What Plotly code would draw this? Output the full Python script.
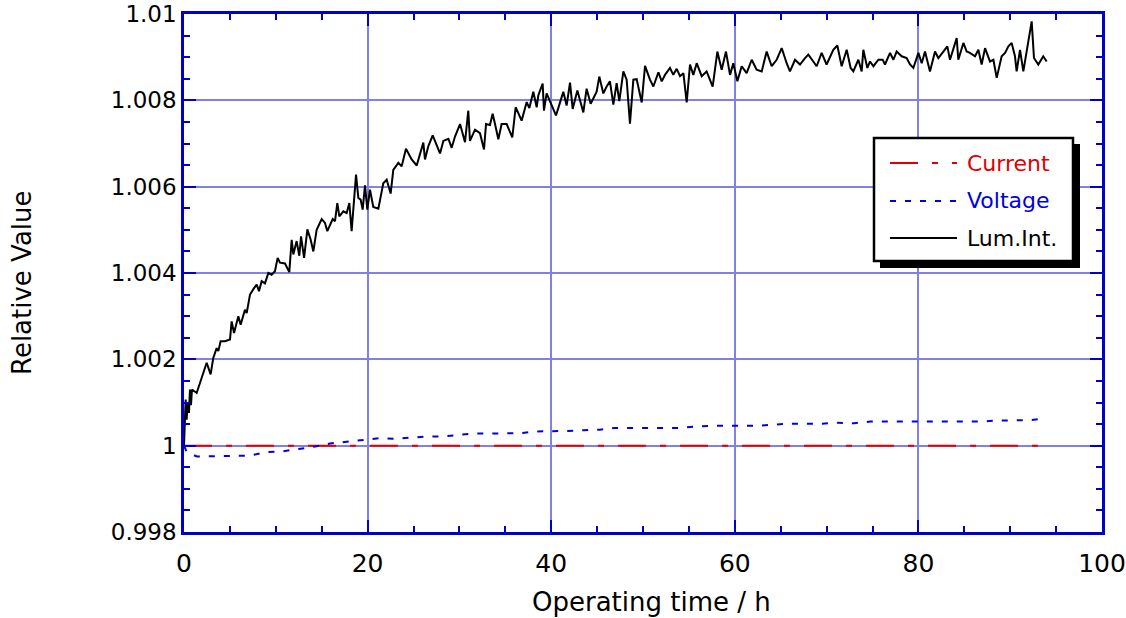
import plotly.graph_objects as go

# ---------------- data ----------------
lum_t = [0.0, 0.07, 0.18, 0.29, 0.40, 0.54, 0.65, 0.76, 0.87, 1.38, 1.92, 2.47, 2.90, 3.19, 3.56, 3.74, 3.99,
         4.47, 5.01, 5.19, 5.45, 5.92, 6.17, 6.64, 6.83, 7.19, 7.63, 7.92, 8.17, 8.46, 8.82, 9.19, 9.55, 9.91,
         10.2, 10.46, 11.0, 11.47, 11.73, 11.91, 12.27, 12.56, 12.75, 13.08, 13.44, 13.8, 14.09, 14.45, 15.0,
         15.36, 15.61, 16.2, 16.45, 16.7, 16.92, 17.36, 17.72, 18.01, 18.26, 18.74, 18.99, 19.24, 19.46, 19.72,
         19.97, 20.26, 20.62, 21.17, 21.71, 22.08, 22.51, 22.8, 23.35, 23.71, 24.18, 24.55, 24.8, 25.35, 25.71,
         26.07, 26.25, 26.62, 27.09, 27.52, 27.89, 28.25, 28.8, 29.16, 29.52, 30.07, 30.61, 30.97, 31.15, 31.7,
         32.24, 32.68, 32.9, 33.33, 33.62, 33.88, 34.24, 34.6, 35.15, 35.76, 36.13, 36.78, 37.33, 37.62, 38.05,
         38.42, 38.6, 39.07, 39.21, 39.5, 40.05, 40.52, 40.95, 41.32, 41.68, 42.05, 42.34, 42.85, 43.5, 43.86,
         44.3, 44.95, 45.24, 45.68, 46.04, 46.4, 46.77, 47.13, 47.42, 47.86, 48.22, 48.58, 48.95, 49.31, 49.86,
         50.22, 50.76, 51.13, 51.68, 52.04, 52.4, 52.94, 53.3, 53.67, 54.03, 54.4, 54.76, 55.12, 55.48, 55.85,
         56.39, 56.93, 57.59, 58.1, 58.57, 59.04, 59.48, 59.84, 60.28, 60.75, 61.29, 61.84, 62.38, 62.93, 63.47,
         64.02, 64.56, 65.11, 65.65, 66.01, 66.56, 67.1, 67.65, 68.01, 68.55, 68.92, 69.46, 70.0, 70.73, 71.17,
         71.64, 72.19, 72.62, 72.91, 73.46, 73.82, 74.0, 74.44, 74.73, 75.1, 75.64, 76.11, 76.36, 76.91, 77.28,
         77.63, 78.18, 78.72, 79.09, 79.45, 80.0, 80.36, 80.72, 81.26, 81.81, 82.17, 82.72, 83.15, 83.44, 83.8,
         84.17, 84.35, 84.9, 85.26, 85.62, 86.17, 86.53, 86.89, 87.26, 87.8, 88.17, 88.53, 89.07, 89.44, 89.8,
         90.16, 90.52, 90.7, 91.07, 91.43, 91.98, 92.34, 92.59, 93.06, 93.6, 93.97]
lum_v = [1.0000, 1.0006, 1.00107, 1.0006, 1.00099, 1.00076, 1.0013, 1.00094, 1.0013, 1.00122, 1.00157, 1.00192,
         1.00165, 1.00203, 1.00226, 1.00219, 1.00242, 1.00242, 1.00246, 1.00288, 1.00261, 1.0030, 1.0028, 1.00315,
         1.00307, 1.0035, 1.00365, 1.00373, 1.00358, 1.00381, 1.00376, 1.0040, 1.00396, 1.00404, 1.00435, 1.00424,
         1.00422, 1.00402, 1.00477, 1.00443, 1.00474, 1.0044, 1.00485, 1.00435, 1.00501, 1.00477, 1.0045, 1.0050,
         1.00525, 1.00516, 1.00497, 1.00525, 1.0052, 1.00562, 1.00531, 1.00543, 1.00539, 1.00562, 1.00497, 1.00628,
         1.00574, 1.0057, 1.00547, 1.00603, 1.00547, 1.00593, 1.00553, 1.00549, 1.00608, 1.00616, 1.00584, 1.00639,
         1.00655, 1.00647, 1.00688, 1.00671, 1.00663, 1.00649, 1.00678, 1.00702, 1.00663, 1.00694, 1.00719, 1.00694,
         1.00677, 1.00706, 1.00711, 1.0069, 1.00716, 1.00745, 1.00703, 1.00776, 1.00706, 1.00732, 1.00724, 1.00686,
         1.00745, 1.00743, 1.00769, 1.00745, 1.0071, 1.00745, 1.00745, 1.00714, 1.00784, 1.00753, 1.00796, 1.00782,
         1.0082, 1.00784, 1.00812, 1.00839, 1.00776, 1.00816, 1.00788, 1.00765, 1.00794, 1.0082, 1.00788, 1.00841,
         1.0078, 1.00823, 1.00772, 1.00827, 1.00792, 1.0082, 1.00855, 1.00816, 1.00832, 1.00844, 1.0079, 1.0084,
         1.00798, 1.00867, 1.00848, 1.00746, 1.00848, 1.00849, 1.00795, 1.0088, 1.00848, 1.00832, 1.00865, 1.00844,
         1.00859, 1.00875, 1.00859, 1.00873, 1.00856, 1.00863, 1.00795, 1.00883, 1.00859, 1.00886, 1.00856, 1.00867,
         1.00832, 1.00913, 1.00871, 1.00913, 1.00859, 1.00886, 1.00844, 1.00879, 1.00863, 1.00894, 1.00871, 1.00867,
         1.00913, 1.00879, 1.00894, 1.00921, 1.00886, 1.00867, 1.00894, 1.00883, 1.00898, 1.00906, 1.0089, 1.00879,
         1.0091, 1.00883, 1.00917, 1.00927, 1.00879, 1.00917, 1.00875, 1.00867, 1.00894, 1.00867, 1.00917, 1.00875,
         1.0089, 1.00879, 1.00894, 1.00894, 1.00883, 1.0091, 1.00894, 1.00913, 1.00902, 1.00898, 1.00883, 1.00875,
         1.0091, 1.00886, 1.00913, 1.00867, 1.00913, 1.00898, 1.00913, 1.00925, 1.00894, 1.00921, 1.00944, 1.00894,
         1.00933, 1.00913, 1.0091, 1.00902, 1.00917, 1.00883, 1.00921, 1.0089, 1.00894, 1.00852, 1.00902, 1.0091,
         1.00925, 1.00933, 1.00902, 1.00867, 1.00917, 1.00867, 1.00933, 1.00983, 1.00898, 1.00883, 1.00902, 1.0089]

volt_t = [0.0, 0.3, 1.4, 3.9, 5.6, 7.2, 9.0, 10.8, 12.4, 14.3, 15.9, 17.7, 19.4, 21.2, 22.8, 24.6, 26.4, 28.0,
          29.7, 31.5, 33.3, 35.0, 36.6, 38.4, 40.2, 41.8, 43.6, 45.3, 46.9, 48.8, 50.4, 52.2, 54.0, 55.7, 57.5,
          59.1, 60.9, 62.6, 64.4, 66.1, 67.9, 69.5, 71.3, 73.0, 74.8, 76.6, 78.3, 80.1, 81.7, 83.5, 85.2, 86.8,
          88.6, 90.4, 92.1, 93.9]
volt_v = [1.0, 0.99985, 0.99975, 0.99976, 0.99977, 0.99977, 0.99985, 0.99987, 0.99992, 0.99998, 1.00005, 1.00009,
          1.00012, 1.00017, 1.00016, 1.00019, 1.00021, 1.00021, 1.00025, 1.00028, 1.00028, 1.00029, 1.00029, 1.00033,
          1.00033, 1.00034, 1.00036, 1.00037, 1.00041, 1.00041, 1.00041, 1.00041, 1.00041, 1.00044, 1.00046, 1.00046,
          1.00046, 1.00046, 1.00049, 1.00051, 1.00051, 1.00051, 1.00053, 1.00052, 1.00056, 1.00056, 1.00056, 1.00056,
          1.00056, 1.00056, 1.00056, 1.00056, 1.00058, 1.00059, 1.00059, 1.00063]

curr_t = [0.0, 94.0]
curr_v = [1.0, 1.0]

x_ticks = [0, 20, 40, 60, 80, 100]
x_labels = ["0", "20", "40", "60", "80", "100"]
y_ticks = [0.998, 1.0, 1.002, 1.004, 1.006, 1.008, 1.01]
y_labels = ["0.998", "1", "1.002", "1.004", "1.006", "1.008", "1.01"]

series_names = ["Current", "Voltage", "Lum.Int."]
series_colors = ["#e00000", "#0000e0", "#000000"]
series_dash = ["28px,14px,6px,14px", "6px,9px", "solid"]

# ---------------- figure ----------------
FONT = "DejaVu Sans"
AX = "#0000cc"
GRID = "#8080e6"

fig = go.Figure()
fig.add_trace(go.Scatter(x=curr_t, y=curr_v, mode="lines", name=series_names[0],
                         line=dict(color=series_colors[0], width=2, dash=series_dash[0])))
fig.add_trace(go.Scatter(x=volt_t, y=volt_v, mode="lines", name=series_names[1],
                         line=dict(color=series_colors[1], width=2, dash=series_dash[1])))
fig.add_trace(go.Scatter(x=lum_t, y=lum_v, mode="lines", name=series_names[2],
                         line=dict(color=series_colors[2], width=2)))

axis_common = dict(
    showline=True, linecolor=AX, linewidth=2.5, mirror="ticks", automargin=False,
    ticks="inside", ticklen=12, tickwidth=2, tickcolor=AX,
    showgrid=True, gridcolor=GRID, gridwidth=1.6, zeroline=False,
)
fig.update_xaxes(range=[0, 100], tickvals=x_ticks, ticktext=x_labels, ticklabelstandoff=7,
                 tickfont=dict(family=FONT, size=25, color="black"),
                 minor=dict(dtick=5, ticks="inside", ticklen=6, tickwidth=2, tickcolor=AX, showgrid=False),
                 **axis_common)
fig.update_yaxes(range=[0.998, 1.01], tickvals=y_ticks, ticktext=y_labels,
                 tickfont=dict(family=FONT, size=23, color="black"),
                 minor=dict(dtick=0.0005, ticks="inside", ticklen=6, tickwidth=2, tickcolor=AX, showgrid=False),
                 **axis_common)

# axis titles
fig.add_annotation(text="Operating time / h", xref="paper", yref="paper", x=0.5, y=0,
                   xanchor="center", yanchor="middle", xshift=8, yshift=-70, showarrow=False,
                   font=dict(family=FONT, size=26, color="black"))
fig.add_annotation(text="Relative Value", xref="paper", yref="paper", x=0, y=0.5, textangle=-90,
                   xanchor="center", yanchor="middle", xshift=-162, yshift=-10, showarrow=False,
                   font=dict(family=FONT, size=26, color="black"))

# legend box (drawn manually: shadow + framed box)
W, H = 918.0, 518.0
def px(x):
    return (x - 184) / W
def py(y):
    return (532 - y) / H

fig.add_shape(type="rect", xref="paper", yref="paper", x0=px(880), x1=px(1080), y0=py(268), y1=py(144),
              fillcolor="black", line=dict(width=0), layer="above")
fig.add_shape(type="rect", xref="paper", yref="paper", x0=px(874), x1=px(1073), y0=py(261), y1=py(138),
              fillcolor="white", line=dict(color="black", width=2.5), layer="above")
row_y = [163, 201, 238]
for name, col, dash, yy in zip(series_names, series_colors, series_dash, row_y):
    fig.add_shape(type="line", xref="paper", yref="paper", x0=px(890), x1=px(957), y0=py(yy), y1=py(yy),
                  line=dict(color=col, width=2, dash=dash), layer="above")
    fig.add_annotation(text=name, xref="paper", yref="paper", x=px(965), y=py(yy), xanchor="left",
                       yanchor="middle", showarrow=False, font=dict(family=FONT, size=22, color=col))

fig.update_layout(
    width=1126, height=618,
    margin=dict(l=184, r=24, t=14, b=86),
    paper_bgcolor="white", plot_bgcolor="white",
    showlegend=False,
)

fig.write_html("out.html")
